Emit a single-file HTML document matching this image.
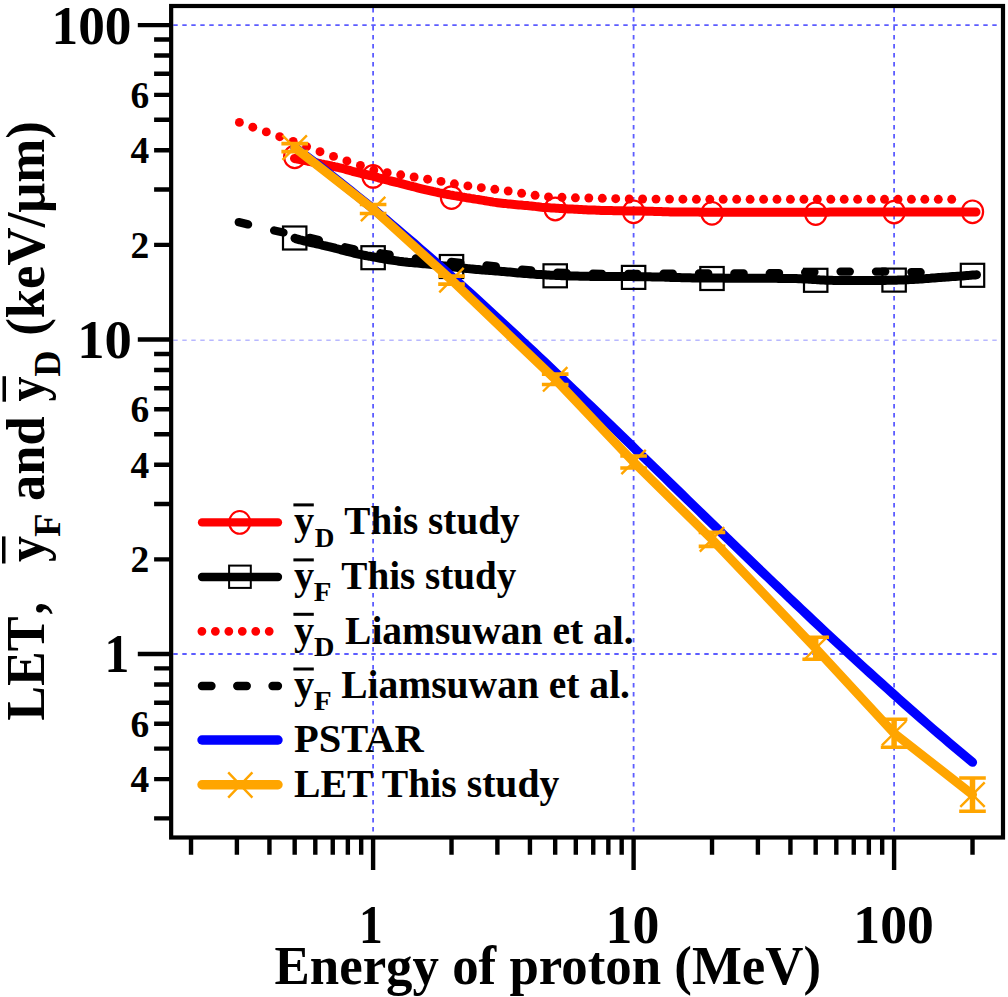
<!DOCTYPE html>
<html><head><meta charset="utf-8"><style>
html,body{margin:0;padding:0;background:#fff;overflow:hidden;}
svg{display:block;}
text{font-family:"Liberation Serif", serif;font-weight:bold;}
</style></head><body>
<svg width="1008" height="997" viewBox="0 0 1008 997">
<rect width="1008" height="997" fill="#fff"/>
<line x1="373.10" y1="8.1" x2="373.10" y2="835.3" stroke="#5c5cff" stroke-width="1.8" stroke-dasharray="4.4 4.6"/>
<line x1="633.60" y1="8.1" x2="633.60" y2="835.3" stroke="#5c5cff" stroke-width="1.8" stroke-dasharray="4.4 4.6"/>
<line x1="894.10" y1="8.1" x2="894.10" y2="835.3" stroke="#5c5cff" stroke-width="1.8" stroke-dasharray="4.4 4.6"/>
<line x1="173.3" y1="25.10" x2="1000.9" y2="25.10" stroke="#5c5cff" stroke-width="1.8" stroke-dasharray="4.4 4.6"/>
<line x1="173.3" y1="654.00" x2="1000.9" y2="654.00" stroke="#5c5cff" stroke-width="1.8" stroke-dasharray="4.4 4.6"/>
<line x1="173.3" y1="340.3" x2="1000.9" y2="340.3" stroke="#b8b8ff" stroke-width="1.4" stroke-dasharray="4.4 4.6"/>
<path d="M154.1,818.42H171 M154.1,779.13H171 M154.1,748.66H171 M154.1,723.76H171 M154.1,702.71H171 M154.1,684.47H171 M154.1,668.39H171 M137.8,654.00H171 M154.1,559.34H171 M154.1,503.97H171 M154.1,464.68H171 M154.1,434.21H171 M154.1,409.31H171 M154.1,388.26H171 M154.1,370.02H171 M154.1,353.94H171 M137.8,339.55H171 M154.1,244.89H171 M154.1,189.52H171 M154.1,150.23H171 M154.1,119.76H171 M154.1,94.86H171 M154.1,73.81H171 M154.1,55.57H171 M154.1,39.49H171 M137.8,25.10H171 M191.02,837V854.8 M236.89,837V854.8 M269.44,837V854.8 M294.68,837V854.8 M315.31,837V854.8 M332.75,837V854.8 M347.85,837V854.8 M361.18,837V854.8 M373.10,837V869.9 M451.52,837V854.8 M497.39,837V854.8 M529.94,837V854.8 M555.18,837V854.8 M575.81,837V854.8 M593.25,837V854.8 M608.35,837V854.8 M621.68,837V854.8 M633.60,837V869.9 M712.02,837V854.8 M757.89,837V854.8 M790.44,837V854.8 M815.68,837V854.8 M836.31,837V854.8 M853.75,837V854.8 M868.85,837V854.8 M882.18,837V854.8 M894.10,837V869.9 M972.52,837V854.8" stroke="#000" stroke-width="4.4" fill="none"/>
<rect x="171.15" y="6" width="831.85" height="831.5" fill="none" stroke="#000" stroke-width="4.2"/>
<path d="M295.0,238.2 L295.6,238.6 L300.0,239.9 L301.4,240.2 L303.0,240.6 L304.7,241.0 L306.7,241.5 L308.8,242.0 L311.0,242.5 L313.4,243.0 L315.7,243.6 L318.1,244.2 L320.6,244.7 L323.0,245.3 L325.3,245.8 L327.6,246.4 L329.8,246.9 L331.9,247.4 L334.0,247.9 L336.0,248.5 L338.0,249.0 L340.0,249.5 L342.0,250.1 L344.1,250.6 L346.1,251.1 L348.2,251.7 L350.3,252.2 L352.5,252.7 L354.7,253.3 L357.1,253.8 L359.5,254.3 L361.4,254.7 L363.3,255.1 L365.3,255.5 L367.3,255.9 L369.4,256.2 L371.5,256.6 L373.7,257.0 L375.8,257.4 L378.0,257.8 L380.2,258.2 L382.4,258.6 L384.6,259.0 L386.7,259.3 L388.9,259.7 L391.0,260.0 L393.0,260.3 L395.1,260.6 L397.0,260.9 L398.9,261.2 L401.2,261.5 L403.4,261.8 L405.5,262.0 L407.6,262.3 L409.6,262.5 L411.5,262.6 L413.4,262.8 L415.4,263.0 L417.3,263.1 L419.3,263.3 L421.3,263.5 L423.3,263.7 L425.5,263.8 L427.7,264.1 L430.0,264.3 L431.8,264.5 L433.7,264.7 L435.6,264.9 L437.6,265.1 L439.6,265.4 L441.7,265.6 L443.7,265.9 L445.8,266.1 L448.0,266.3 L450.1,266.6 L452.2,266.8 L454.3,267.1 L456.4,267.3 L458.5,267.6 L460.5,267.8 L462.5,268.0 L464.5,268.2 L466.4,268.4 L468.2,268.6 L470.0,268.8 L472.3,269.0 L474.4,269.2 L476.5,269.4 L478.5,269.6 L480.4,269.8 L482.3,269.9 L484.1,270.1 L486.0,270.2 L487.8,270.3 L489.7,270.5 L491.6,270.6 L493.6,270.8 L495.6,270.9 L497.7,271.1 L500.0,271.3 L501.9,271.5 L503.7,271.6 L505.7,271.8 L507.7,272.0 L509.7,272.1 L511.7,272.3 L513.8,272.5 L515.9,272.7 L518.0,272.9 L520.1,273.0 L522.2,273.2 L524.4,273.4 L526.5,273.6 L528.7,273.7 L530.9,273.9 L533.0,274.1 L535.2,274.2 L537.3,274.4 L539.4,274.5 L541.4,274.6 L543.3,274.7 L545.2,274.8 L547.0,275.0 L548.8,275.1 L550.6,275.2 L552.4,275.2 L554.2,275.3 L556.1,275.4 L557.9,275.5 L559.8,275.6 L561.7,275.7 L563.7,275.7 L565.8,275.8 L567.9,275.9 L570.1,276.0 L572.4,276.0 L574.8,276.1 L577.4,276.1 L580.0,276.2 L581.7,276.2 L583.4,276.3 L585.2,276.3 L587.0,276.3 L588.9,276.3 L590.9,276.4 L592.9,276.4 L594.9,276.4 L597.0,276.4 L599.0,276.4 L601.2,276.5 L603.3,276.5 L605.5,276.5 L607.7,276.5 L609.9,276.5 L612.1,276.5 L614.3,276.5 L616.5,276.5 L618.7,276.6 L620.9,276.6 L623.1,276.6 L625.3,276.6 L627.5,276.6 L629.7,276.6 L631.8,276.6 L634.0,276.7 L636.1,276.7 L638.1,276.7 L640.1,276.7 L642.1,276.7 L644.1,276.7 L646.0,276.8 L647.8,276.8 L650.1,276.8 L652.2,276.9 L654.3,276.9 L656.3,277.0 L658.3,277.0 L660.1,277.1 L662.0,277.1 L663.8,277.1 L665.5,277.2 L667.3,277.2 L669.0,277.3 L670.8,277.4 L672.5,277.4 L674.3,277.5 L676.1,277.5 L677.9,277.6 L679.7,277.6 L681.7,277.7 L683.6,277.7 L685.7,277.8 L687.8,277.8 L690.0,277.8 L692.4,277.9 L694.8,277.9 L697.3,278.0 L700.0,278.0 L701.6,278.0 L703.3,278.0 L705.0,278.1 L706.8,278.1 L708.6,278.1 L710.5,278.1 L712.4,278.1 L714.4,278.1 L716.4,278.1 L718.4,278.1 L720.5,278.1 L722.6,278.1 L724.7,278.2 L726.9,278.2 L729.1,278.2 L731.2,278.2 L733.5,278.2 L735.7,278.2 L737.9,278.2 L740.2,278.2 L742.4,278.2 L744.6,278.2 L746.9,278.2 L749.1,278.2 L751.4,278.2 L753.6,278.2 L755.8,278.2 L758.0,278.2 L760.2,278.3 L762.3,278.3 L764.4,278.3 L766.5,278.3 L768.6,278.3 L770.6,278.3 L772.6,278.3 L774.6,278.3 L776.5,278.3 L778.4,278.4 L780.2,278.4 L782.0,278.4 L783.7,278.4 L785.4,278.4 L787.0,278.5 L788.5,278.5 L790.0,278.5 L793.1,278.6 L796.0,278.6 L798.6,278.7 L801.0,278.8 L803.3,278.9 L805.4,279.0 L807.3,279.1 L809.1,279.2 L810.8,279.3 L812.5,279.4 L814.1,279.5 L815.7,279.6 L817.3,279.7 L818.8,279.8 L820.5,279.9 L822.2,280.0 L823.9,280.1 L825.8,280.2 L827.8,280.2 L830.0,280.3 L831.8,280.3 L833.7,280.4 L835.7,280.4 L837.7,280.4 L839.7,280.4 L841.7,280.5 L843.8,280.5 L846.0,280.5 L848.1,280.5 L850.2,280.5 L852.4,280.5 L854.5,280.5 L856.7,280.5 L858.8,280.5 L861.0,280.5 L863.1,280.5 L865.1,280.5 L867.2,280.5 L869.2,280.5 L871.1,280.5 L873.0,280.5 L874.9,280.4 L876.6,280.4 L878.4,280.4 L880.0,280.4 L882.6,280.4 L884.9,280.4 L887.1,280.3 L889.2,280.3 L891.1,280.3 L893.0,280.2 L894.7,280.2 L896.5,280.2 L898.2,280.1 L900.0,280.0 L901.8,280.0 L903.7,279.9 L905.7,279.8 L907.8,279.7 L910.0,279.6 L911.8,279.5 L913.7,279.4 L915.6,279.3 L917.6,279.2 L919.6,279.0 L921.7,278.9 L923.8,278.7 L925.9,278.6 L928.1,278.4 L930.2,278.3 L932.4,278.1 L934.5,278.0 L936.6,277.8 L938.7,277.6 L940.7,277.5 L942.7,277.3 L944.6,277.2 L946.5,277.1 L948.3,276.9 L950.0,276.8 L952.6,276.6 L955.1,276.4 L957.6,276.2 L960.0,276.1 L962.4,275.9 L964.7,275.7 L966.8,275.5 L968.9,275.4 L970.7,275.2 L972.5,275.1 L974.0,275.0 L975.4,274.9 L976.5,274.8" stroke="#000" stroke-width="9" fill="none" stroke-linecap="round" stroke-linejoin="round"/>
<path d="M238.8,222.2L248.0,224.4M274.2,230.5L283.4,232.5M309.6,237.9L318.8,240.1M345.0,247.3L354.2,249.3M380.4,253.3L389.6,254.7M415.8,258.5L425.0,259.5M451.2,261.9L460.4,262.9M486.6,265.5L495.8,266.5M522.0,269.7L531.2,270.5M557.4,272.6L566.6,273.0M592.8,273.7L602.0,273.9M628.2,274.0L637.4,274.0M663.6,273.7L672.8,273.7M699.0,273.5L708.2,273.5M734.4,273.4L743.6,273.4M769.8,273.3L779.0,273.1M805.2,272.3L814.4,272.1M840.6,271.6L849.8,271.6M876.0,271.6L885.2,271.6M911.4,272.1L920.6,272.3" stroke="#000" stroke-width="8.4" fill="none" stroke-linecap="round"/>
<path d="M294.5,158.5 L295.7,158.7 L297.2,159.0 L299.0,159.4 L301.0,159.8 L303.2,160.2 L305.5,160.7 L307.8,161.2 L310.2,161.6 L312.6,162.1 L314.9,162.6 L317.0,163.0 L319.1,163.4 L321.2,163.9 L323.4,164.3 L325.6,164.8 L327.8,165.2 L330.0,165.6 L332.1,166.1 L334.1,166.5 L336.1,167.0 L338.0,167.4 L339.8,167.8 L342.3,168.4 L344.6,169.0 L346.6,169.6 L348.6,170.2 L350.5,170.7 L352.5,171.3 L354.7,171.9 L356.8,172.4 L359.0,172.9 L361.2,173.5 L363.5,174.0 L365.7,174.5 L367.9,175.0 L370.0,175.5 L372.0,176.0 L374.4,176.6 L376.5,177.2 L378.5,177.8 L380.5,178.3 L382.5,178.9 L384.7,179.5 L386.7,180.0 L388.7,180.5 L390.8,181.0 L392.9,181.5 L395.1,182.0 L397.3,182.5 L399.6,183.1 L401.4,183.6 L403.3,184.1 L405.2,184.6 L407.1,185.1 L409.0,185.6 L411.1,186.1 L413.2,186.7 L415.3,187.2 L417.6,187.8 L419.6,188.3 L421.6,188.8 L423.8,189.3 L426.0,189.8 L428.3,190.3 L430.6,190.8 L432.9,191.4 L435.1,191.9 L437.3,192.3 L439.4,192.8 L441.4,193.2 L443.7,193.7 L445.9,194.1 L447.9,194.5 L450.0,194.9 L452.0,195.2 L453.9,195.6 L455.9,195.9 L457.9,196.2 L460.0,196.6 L462.1,197.0 L464.3,197.3 L466.4,197.7 L468.6,198.0 L470.8,198.4 L473.0,198.7 L475.2,199.1 L477.4,199.4 L479.6,199.8 L481.6,200.1 L483.5,200.4 L485.4,200.8 L487.3,201.1 L489.2,201.4 L491.2,201.7 L493.2,202.1 L495.4,202.4 L497.6,202.7 L500.0,203.0 L501.8,203.2 L503.8,203.4 L505.8,203.6 L507.9,203.9 L510.0,204.1 L512.2,204.3 L514.4,204.5 L516.6,204.7 L518.8,204.9 L521.0,205.1 L523.1,205.3 L525.1,205.4 L527.1,205.6 L528.9,205.8 L531.2,206.0 L533.1,206.2 L534.8,206.4 L536.4,206.6 L538.0,206.8 L539.7,207.0 L541.5,207.2 L543.8,207.4 L546.4,207.6 L549.6,207.8 L551.1,207.9 L552.7,208.0 L554.4,208.1 L556.2,208.2 L558.0,208.3 L559.9,208.4 L561.9,208.5 L563.9,208.7 L566.0,208.8 L568.1,208.9 L570.3,209.0 L572.5,209.1 L574.7,209.2 L576.9,209.3 L579.2,209.5 L581.4,209.6 L583.7,209.7 L585.9,209.8 L588.2,209.9 L590.4,210.0 L592.6,210.1 L594.7,210.1 L596.8,210.2 L598.9,210.3 L601.0,210.4 L603.0,210.4 L605.2,210.5 L607.3,210.5 L609.4,210.6 L611.6,210.6 L613.7,210.7 L615.9,210.7 L618.0,210.8 L620.2,210.8 L622.4,210.8 L624.5,210.9 L626.6,210.9 L628.7,210.9 L630.8,210.9 L632.8,211.0 L634.9,211.0 L636.8,211.0 L638.8,211.0 L640.7,211.1 L642.5,211.1 L644.3,211.1 L646.1,211.2 L647.8,211.2 L650.3,211.3 L652.5,211.3 L654.5,211.4 L656.3,211.4 L658.0,211.5 L659.6,211.6 L661.2,211.6 L662.8,211.7 L664.4,211.7 L666.2,211.8 L668.2,211.8 L670.4,211.9 L672.9,211.9 L675.7,212.0 L678.9,212.0 L680.3,212.0 L681.7,212.0 L683.0,212.0 L684.3,212.1 L685.6,212.1 L686.8,212.1 L688.1,212.1 L689.3,212.1 L690.5,212.1 L691.8,212.1 L693.0,212.1 L694.3,212.1 L695.7,212.1 L697.0,212.1 L698.4,212.1 L699.9,212.2 L701.5,212.2 L703.1,212.2 L704.8,212.2 L706.6,212.2 L708.5,212.2 L710.5,212.2 L712.6,212.2 L714.9,212.2 L717.2,212.2 L719.7,212.2 L722.4,212.2 L725.2,212.2 L728.2,212.2 L731.4,212.2 L734.7,212.2 L738.2,212.2 L741.9,212.2 L745.9,212.2 L750.0,212.2 L751.3,212.2 L752.7,212.2 L754.1,212.2 L755.6,212.2 L757.1,212.2 L758.6,212.2 L760.2,212.2 L761.8,212.2 L763.4,212.2 L765.1,212.2 L766.8,212.2 L768.6,212.2 L770.3,212.2 L772.2,212.2 L774.0,212.2 L775.9,212.2 L777.8,212.2 L779.7,212.2 L781.6,212.2 L783.6,212.2 L785.6,212.2 L787.7,212.2 L789.7,212.2 L791.8,212.2 L793.9,212.2 L796.0,212.2 L798.2,212.2 L800.4,212.2 L802.5,212.2 L804.8,212.2 L807.0,212.2 L809.2,212.2 L811.5,212.2 L813.8,212.2 L816.1,212.2 L818.4,212.2 L820.7,212.2 L823.0,212.2 L825.4,212.2 L827.7,212.2 L830.1,212.1 L832.4,212.1 L834.8,212.1 L837.2,212.1 L839.6,212.1 L842.0,212.1 L844.4,212.1 L846.8,212.1 L849.3,212.1 L851.7,212.1 L854.1,212.1 L856.5,212.1 L859.0,212.1 L861.4,212.1 L863.8,212.1 L866.2,212.1 L868.7,212.1 L871.1,212.1 L873.5,212.1 L875.9,212.1 L878.3,212.1 L880.7,212.1 L883.1,212.1 L885.5,212.1 L887.8,212.1 L890.2,212.1 L892.6,212.1 L894.9,212.1 L897.2,212.1 L899.6,212.1 L901.9,212.1 L904.1,212.1 L906.4,212.1 L908.7,212.1 L910.9,212.1 L913.2,212.1 L915.4,212.1 L917.5,212.1 L919.7,212.1 L921.9,212.1 L924.0,212.1 L926.1,212.1 L928.2,212.0 L930.2,212.0 L932.3,212.0 L934.3,212.0 L936.3,212.0 L938.2,212.0 L940.1,212.0 L942.0,212.0 L943.9,212.0 L945.7,212.0 L947.6,212.0 L949.3,212.0 L951.1,212.0 L952.8,212.0 L954.5,212.0 L956.1,212.0 L957.7,212.0 L959.3,212.0 L960.8,212.0 L962.3,212.0 L963.8,212.0 L965.2,212.0 L966.5,212.0 L967.9,212.0 L969.2,212.0 L970.4,212.0 L971.6,212.0 L972.8,212.0 L973.9,212.0 L975.0,212.0 L976.0,212.0" stroke="#ff0000" stroke-width="9" fill="none" stroke-linecap="round" stroke-linejoin="round"/>
<circle cx="239.4" cy="122.4" r="4.45" fill="#ff0000"/>
<circle cx="252.8" cy="127.2" r="4.45" fill="#ff0000"/>
<circle cx="266.3" cy="131.9" r="4.45" fill="#ff0000"/>
<circle cx="279.7" cy="136.7" r="4.45" fill="#ff0000"/>
<circle cx="293.2" cy="141.5" r="4.45" fill="#ff0000"/>
<circle cx="306.6" cy="146.6" r="4.45" fill="#ff0000"/>
<circle cx="320.0" cy="151.7" r="4.45" fill="#ff0000"/>
<circle cx="333.5" cy="156.4" r="4.45" fill="#ff0000"/>
<circle cx="346.9" cy="160.9" r="4.45" fill="#ff0000"/>
<circle cx="360.4" cy="165.5" r="4.45" fill="#ff0000"/>
<circle cx="373.8" cy="170.1" r="4.45" fill="#ff0000"/>
<circle cx="387.2" cy="172.7" r="4.45" fill="#ff0000"/>
<circle cx="400.7" cy="174.8" r="4.45" fill="#ff0000"/>
<circle cx="414.1" cy="177.0" r="4.45" fill="#ff0000"/>
<circle cx="427.6" cy="179.2" r="4.45" fill="#ff0000"/>
<circle cx="441.0" cy="181.4" r="4.45" fill="#ff0000"/>
<circle cx="454.4" cy="183.8" r="4.45" fill="#ff0000"/>
<circle cx="467.9" cy="185.9" r="4.45" fill="#ff0000"/>
<circle cx="481.3" cy="187.7" r="4.45" fill="#ff0000"/>
<circle cx="494.8" cy="189.3" r="4.45" fill="#ff0000"/>
<circle cx="508.2" cy="191.0" r="4.45" fill="#ff0000"/>
<circle cx="521.6" cy="193.3" r="4.45" fill="#ff0000"/>
<circle cx="535.1" cy="195.3" r="4.45" fill="#ff0000"/>
<circle cx="548.5" cy="196.9" r="4.45" fill="#ff0000"/>
<circle cx="562.0" cy="197.3" r="4.45" fill="#ff0000"/>
<circle cx="575.4" cy="197.8" r="4.45" fill="#ff0000"/>
<circle cx="588.8" cy="198.0" r="4.45" fill="#ff0000"/>
<circle cx="602.3" cy="198.3" r="4.45" fill="#ff0000"/>
<circle cx="615.7" cy="198.7" r="4.45" fill="#ff0000"/>
<circle cx="629.2" cy="199.0" r="4.45" fill="#ff0000"/>
<circle cx="642.6" cy="199.0" r="4.45" fill="#ff0000"/>
<circle cx="656.0" cy="199.1" r="4.45" fill="#ff0000"/>
<circle cx="669.5" cy="199.1" r="4.45" fill="#ff0000"/>
<circle cx="682.9" cy="199.2" r="4.45" fill="#ff0000"/>
<circle cx="696.4" cy="199.3" r="4.45" fill="#ff0000"/>
<circle cx="709.8" cy="199.3" r="4.45" fill="#ff0000"/>
<circle cx="723.2" cy="199.3" r="4.45" fill="#ff0000"/>
<circle cx="736.7" cy="199.3" r="4.45" fill="#ff0000"/>
<circle cx="750.1" cy="199.3" r="4.45" fill="#ff0000"/>
<circle cx="763.6" cy="199.3" r="4.45" fill="#ff0000"/>
<circle cx="777.0" cy="199.3" r="4.45" fill="#ff0000"/>
<circle cx="790.4" cy="199.3" r="4.45" fill="#ff0000"/>
<circle cx="803.9" cy="199.3" r="4.45" fill="#ff0000"/>
<circle cx="817.3" cy="199.3" r="4.45" fill="#ff0000"/>
<circle cx="830.8" cy="199.3" r="4.45" fill="#ff0000"/>
<circle cx="844.2" cy="199.3" r="4.45" fill="#ff0000"/>
<circle cx="857.6" cy="199.3" r="4.45" fill="#ff0000"/>
<circle cx="871.1" cy="199.3" r="4.45" fill="#ff0000"/>
<circle cx="884.5" cy="199.3" r="4.45" fill="#ff0000"/>
<circle cx="898.0" cy="199.3" r="4.45" fill="#ff0000"/>
<circle cx="911.4" cy="199.3" r="4.45" fill="#ff0000"/>
<circle cx="924.8" cy="199.3" r="4.45" fill="#ff0000"/>
<circle cx="938.3" cy="199.3" r="4.45" fill="#ff0000"/>
<circle cx="951.7" cy="199.3" r="4.45" fill="#ff0000"/>
<ellipse cx="294.7" cy="156.8" rx="10.6" ry="11.3" fill="none" stroke="#ff0000" stroke-width="2.2"/>
<ellipse cx="373.1" cy="176.4" rx="10.6" ry="11.3" fill="none" stroke="#ff0000" stroke-width="2.2"/>
<ellipse cx="451.5" cy="197.6" rx="10.6" ry="11.3" fill="none" stroke="#ff0000" stroke-width="2.2"/>
<ellipse cx="555.2" cy="209.0" rx="10.6" ry="11.3" fill="none" stroke="#ff0000" stroke-width="2.2"/>
<ellipse cx="633.6" cy="211.8" rx="10.6" ry="11.3" fill="none" stroke="#ff0000" stroke-width="2.2"/>
<ellipse cx="712.0" cy="213.3" rx="10.6" ry="11.3" fill="none" stroke="#ff0000" stroke-width="2.2"/>
<ellipse cx="815.7" cy="213.6" rx="10.6" ry="11.3" fill="none" stroke="#ff0000" stroke-width="2.2"/>
<ellipse cx="894.1" cy="212.1" rx="10.6" ry="11.3" fill="none" stroke="#ff0000" stroke-width="2.2"/>
<ellipse cx="972.5" cy="211.8" rx="10.6" ry="11.3" fill="none" stroke="#ff0000" stroke-width="2.2"/>
<rect x="283.0" y="226.5" width="23.4" height="23" fill="none" stroke="#000" stroke-width="2.2"/>
<rect x="361.4" y="246.2" width="23.4" height="23" fill="none" stroke="#000" stroke-width="2.2"/>
<rect x="439.8" y="255.0" width="23.4" height="23" fill="none" stroke="#000" stroke-width="2.2"/>
<rect x="543.5" y="264.3" width="23.4" height="23" fill="none" stroke="#000" stroke-width="2.2"/>
<rect x="621.9" y="265.9" width="23.4" height="23" fill="none" stroke="#000" stroke-width="2.2"/>
<rect x="700.3" y="267.0" width="23.4" height="23" fill="none" stroke="#000" stroke-width="2.2"/>
<rect x="804.0" y="268.8" width="23.4" height="23" fill="none" stroke="#000" stroke-width="2.2"/>
<rect x="882.4" y="268.6" width="23.4" height="23" fill="none" stroke="#000" stroke-width="2.2"/>
<rect x="960.8" y="263.8" width="23.4" height="23" fill="none" stroke="#000" stroke-width="2.2"/>
<path d="M294.7,147.4 L300.4,151.6 L306.1,155.9 L311.8,160.2 L317.5,164.5 L323.2,168.9 L328.9,173.3 L334.6,177.8 L340.3,182.3 L345.9,186.8 L351.6,191.4 L357.3,196.0 L363.0,200.6 L368.7,205.2 L374.4,209.9 L380.1,214.7 L385.8,219.4 L391.5,224.2 L397.2,229.0 L402.9,233.9 L408.6,238.7 L414.3,243.6 L420.0,248.6 L425.7,253.5 L431.4,258.5 L437.1,263.5 L442.8,268.5 L448.5,273.6 L454.2,278.7 L459.9,283.8 L465.6,288.9 L471.3,294.0 L477.0,299.2 L482.7,304.4 L488.3,309.6 L494.0,314.8 L499.7,320.1 L505.4,325.4 L511.1,330.6 L516.8,335.9 L522.5,341.3 L528.2,346.6 L533.9,351.9 L539.6,357.3 L545.3,362.7 L551.0,368.1 L556.7,373.5 L562.4,378.9 L568.1,384.3 L573.8,389.8 L579.5,395.2 L585.2,400.7 L590.9,406.1 L596.6,411.6 L602.3,417.1 L608.0,422.6 L613.7,428.1 L619.4,433.6 L625.1,439.1 L630.8,444.6 L636.4,450.2 L642.1,455.7 L647.8,461.2 L653.5,466.7 L659.2,472.3 L664.9,477.8 L670.6,483.4 L676.3,488.9 L682.0,494.4 L687.7,500.0 L693.4,505.5 L699.1,511.0 L704.8,516.6 L710.5,522.1 L716.2,527.6 L721.9,533.1 L727.6,538.6 L733.3,544.1 L739.0,549.6 L744.7,555.1 L750.4,560.6 L756.1,566.1 L761.8,571.6 L767.5,577.0 L773.2,582.5 L778.9,587.9 L784.5,593.3 L790.2,598.8 L795.9,604.2 L801.6,609.5 L807.3,614.9 L813.0,620.3 L818.7,625.6 L824.4,631.0 L830.1,636.3 L835.8,641.6 L841.5,646.9 L847.2,652.1 L852.9,657.4 L858.6,662.6 L864.3,667.8 L870.0,673.0 L875.7,678.2 L881.4,683.3 L887.1,688.4 L892.8,693.5 L898.5,698.6 L904.2,703.7 L909.9,708.7 L915.6,713.7 L921.3,718.7 L926.9,723.6 L932.6,728.6 L938.3,733.5 L944.0,738.3 L949.7,743.2 L955.4,748.0 L961.1,752.8 L966.8,757.5 L972.5,762.2" stroke="#0000ff" stroke-width="9.2" fill="none" stroke-linecap="round" stroke-linejoin="round"/>
<path d="M294.7,147.6 L373.1,209.0 L451.5,280.1 L555.2,379.3 L633.6,462.0 L712.0,539.4 L815.7,648.3 L894.1,733.2 L972.5,794.6" stroke="#ffa500" stroke-width="9" fill="none" stroke-linecap="round" stroke-linejoin="round"/>
<path d="M281.4,143.6H308.0M281.4,151.6H308.0" stroke="#ffa500" stroke-width="3.6" fill="none"/>
<path d="M294.7,143.6V151.6" stroke="#ffa500" stroke-width="5.5" fill="none"/>
<path d="M282.5,135.4L306.9,159.8M282.5,159.8L306.9,135.4" stroke="#ffa500" stroke-width="2.4" fill="none"/>
<path d="M359.8,204.5H386.4M359.8,213.5H386.4" stroke="#ffa500" stroke-width="3.6" fill="none"/>
<path d="M373.1,204.5V213.5" stroke="#ffa500" stroke-width="5.5" fill="none"/>
<path d="M360.9,196.8L385.3,221.2M360.9,221.2L385.3,196.8" stroke="#ffa500" stroke-width="2.4" fill="none"/>
<path d="M438.2,276.1H464.8M438.2,284.1H464.8" stroke="#ffa500" stroke-width="3.6" fill="none"/>
<path d="M451.5,276.1V284.1" stroke="#ffa500" stroke-width="5.5" fill="none"/>
<path d="M439.3,267.9L463.7,292.3M439.3,292.3L463.7,267.9" stroke="#ffa500" stroke-width="2.4" fill="none"/>
<path d="M541.9,374.1H568.5M541.9,384.5H568.5" stroke="#ffa500" stroke-width="3.6" fill="none"/>
<path d="M555.2,374.1V384.5" stroke="#ffa500" stroke-width="5.5" fill="none"/>
<path d="M543.0,367.1L567.4,391.5M543.0,391.5L567.4,367.1" stroke="#ffa500" stroke-width="2.4" fill="none"/>
<path d="M620.3,456.0H646.9M620.3,468.0H646.9" stroke="#ffa500" stroke-width="3.6" fill="none"/>
<path d="M633.6,456.0V468.0" stroke="#ffa500" stroke-width="5.5" fill="none"/>
<path d="M621.4,449.8L645.8,474.2M621.4,474.2L645.8,449.8" stroke="#ffa500" stroke-width="2.4" fill="none"/>
<path d="M698.7,532.4H725.3M698.7,546.4H725.3" stroke="#ffa500" stroke-width="3.6" fill="none"/>
<path d="M712.0,532.4V546.4" stroke="#ffa500" stroke-width="5.5" fill="none"/>
<path d="M699.8,527.2L724.2,551.6M699.8,551.6L724.2,527.2" stroke="#ffa500" stroke-width="2.4" fill="none"/>
<path d="M802.4,637.3H829.0M802.4,659.3H829.0" stroke="#ffa500" stroke-width="3.6" fill="none"/>
<path d="M815.7,637.3V659.3" stroke="#ffa500" stroke-width="5.5" fill="none"/>
<path d="M803.5,636.1L827.9,660.5M803.5,660.5L827.9,636.1" stroke="#ffa500" stroke-width="2.4" fill="none"/>
<path d="M880.8,719.2H907.4M880.8,747.2H907.4" stroke="#ffa500" stroke-width="3.6" fill="none"/>
<path d="M894.1,719.2V747.2" stroke="#ffa500" stroke-width="5.5" fill="none"/>
<path d="M881.9,721.0L906.3,745.4M881.9,745.4L906.3,721.0" stroke="#ffa500" stroke-width="2.4" fill="none"/>
<path d="M959.2,778.0H985.8M959.2,811.2H985.8" stroke="#ffa500" stroke-width="3.6" fill="none"/>
<path d="M972.5,778.0V811.2" stroke="#ffa500" stroke-width="5.5" fill="none"/>
<path d="M960.3,782.4L984.7,806.8M960.3,806.8L984.7,782.4" stroke="#ffa500" stroke-width="2.4" fill="none"/>
<path d="M202,522.4H278" stroke="#ff0000" stroke-width="8.3" stroke-linecap="round"/>
<ellipse cx="239.7" cy="522.4" rx="10.5" ry="11.4" fill="none" stroke="#ff0000" stroke-width="2.1"/>
<path d="M202,577H278" stroke="#000" stroke-width="8.3" stroke-linecap="round"/>
<rect x="229.1" y="565.6" width="21.7" height="22.3" fill="none" stroke="#000" stroke-width="2"/>
<path d="M201.9,631.3H270" stroke="#ff0000" stroke-width="8.8" stroke-linecap="round" stroke-dasharray="0 13.46"/>
<path d="M201.9,686H278" stroke="#000" stroke-width="8.3" stroke-linecap="round" stroke-dasharray="9.6 25.7"/>
<path d="M202,740H278" stroke="#0000ff" stroke-width="9.4" stroke-linecap="round"/>
<path d="M202,784.8H278" stroke="#ffa500" stroke-width="9.4" stroke-linecap="round"/>
<path d="M228.2,772.4L252.4,797.7M228.2,797.7L252.4,772.4" stroke="#ffa500" stroke-width="2.4"/>
<g fill="#000">
<text x="294.01" y="534.20" font-size="39" textLength="20.18" lengthAdjust="spacingAndGlyphs">y</text>
<rect x="293.4" y="503.4" width="20.4" height="3" fill="#000"/>
<text x="314.81" y="546.50" font-size="27.5" textLength="19.64" lengthAdjust="spacingAndGlyphs">D</text>
<text x="344.37" y="534.20" font-size="39" textLength="175.12" lengthAdjust="spacingAndGlyphs">This study</text>
<text x="294.01" y="589.20" font-size="39" textLength="20.18" lengthAdjust="spacingAndGlyphs">y</text>
<rect x="293.4" y="558.4" width="20.4" height="3" fill="#000"/>
<text x="313.77" y="601.10" font-size="27.5" textLength="17.69" lengthAdjust="spacingAndGlyphs">F</text>
<text x="341.37" y="589.20" font-size="39" textLength="175.01" lengthAdjust="spacingAndGlyphs">This study</text>
<text x="294.01" y="643.60" font-size="39" textLength="20.18" lengthAdjust="spacingAndGlyphs">y</text>
<rect x="293.4" y="612.8" width="20.4" height="3" fill="#000"/>
<text x="313.99" y="655.80" font-size="27.5" textLength="20.41" lengthAdjust="spacingAndGlyphs">D</text>
<text x="345.07" y="643.60" font-size="39" textLength="288.45" lengthAdjust="spacingAndGlyphs">Liamsuwan et al.</text>
<text x="294.01" y="698.30" font-size="39" textLength="20.18" lengthAdjust="spacingAndGlyphs">y</text>
<rect x="293.4" y="667.5" width="20.4" height="3" fill="#000"/>
<text x="313.77" y="709.90" font-size="27.5" textLength="17.92" lengthAdjust="spacingAndGlyphs">F</text>
<text x="341.17" y="698.30" font-size="39" textLength="288.85" lengthAdjust="spacingAndGlyphs">Liamsuwan et al.</text>
<text x="294.05" y="752.20" font-size="39" textLength="129.75" lengthAdjust="spacingAndGlyphs">PSTAR</text>
<text x="294.06" y="796.80" font-size="39" textLength="265.23" lengthAdjust="spacingAndGlyphs">LET This study</text>
<text x="51.50" y="44.10" font-size="54.3" textLength="79.96" lengthAdjust="spacingAndGlyphs">100</text>
<text x="77.15" y="358.30" font-size="55" textLength="54.66" lengthAdjust="spacingAndGlyphs">10</text>
<text x="104.52" y="672.40" font-size="54.6" textLength="24.84" lengthAdjust="spacingAndGlyphs">1</text>
<text x="149.2" y="108.0" font-size="37.5" text-anchor="end">6</text>
<text x="149.2" y="163.3" font-size="37.5" text-anchor="end">4</text>
<text x="149.2" y="258.0" font-size="37.5" text-anchor="end">2</text>
<text x="149.2" y="422.4" font-size="37.5" text-anchor="end">6</text>
<text x="149.2" y="477.8" font-size="37.5" text-anchor="end">4</text>
<text x="149.2" y="572.4" font-size="37.5" text-anchor="end">2</text>
<text x="149.2" y="736.9" font-size="37.5" text-anchor="end">6</text>
<text x="149.2" y="792.2" font-size="37.5" text-anchor="end">4</text>
<text x="359.00" y="942.90" font-size="54.6" textLength="23.75" lengthAdjust="spacingAndGlyphs">1</text>
<text x="605.62" y="943.00" font-size="55" textLength="53.75" lengthAdjust="spacingAndGlyphs">10</text>
<text x="853.33" y="943.30" font-size="55" textLength="80.44" lengthAdjust="spacingAndGlyphs">100</text>
<text x="274.54" y="983.50" font-size="54" textLength="546.52" lengthAdjust="spacingAndGlyphs">Energy of proton (MeV)</text>
<g transform="translate(43.5,720.0) rotate(-90)">
<text x="-0.74" y="0.00" font-size="54" textLength="104.12" lengthAdjust="spacingAndGlyphs">LET</text>
<text x="105.41" y="0.00" font-size="54" textLength="12.43" lengthAdjust="spacingAndGlyphs">,</text>
<text x="158.02" y="0.00" font-size="54" textLength="26.07" lengthAdjust="spacingAndGlyphs">y</text>
<rect x="156.5" y="-41.5" width="27.1" height="3.5" fill="#000"/>
<text x="182.96" y="16.70" font-size="38" textLength="23.60" lengthAdjust="spacingAndGlyphs">F</text>
<text x="219.00" y="0.00" font-size="54" textLength="84.55" lengthAdjust="spacingAndGlyphs">and</text>
<text x="318.54" y="0.00" font-size="54" textLength="24.92" lengthAdjust="spacingAndGlyphs">y</text>
<rect x="318.3" y="-41" width="25.5" height="3.5" fill="#000"/>
<text x="343.20" y="16.20" font-size="38" textLength="26.24" lengthAdjust="spacingAndGlyphs">D</text>
<text x="384.18" y="0.00" font-size="54" textLength="214.58" lengthAdjust="spacingAndGlyphs">(keV/μm)</text>
</g>
</g>
</svg>
</body></html>
